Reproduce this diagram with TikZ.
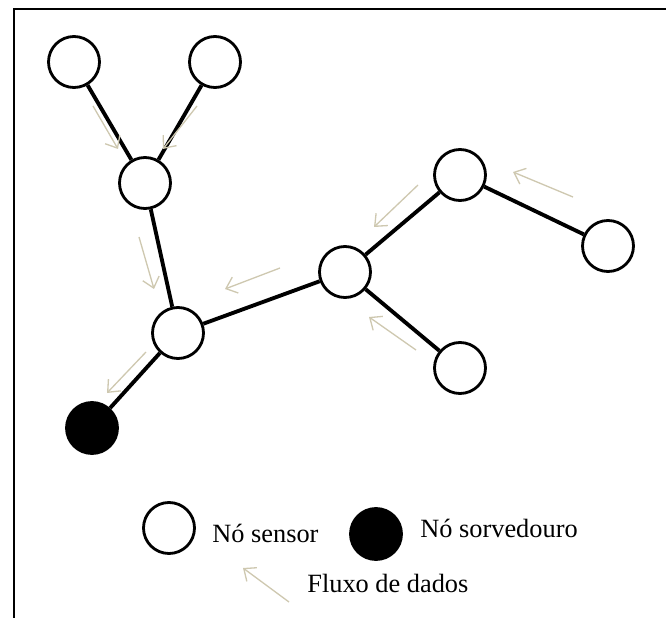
\documentclass[tikz,border=0pt]{standalone}
\usepackage{fontspec}
\setmainfont{Liberation Serif}
\usetikzlibrary{arrows.meta}
\definecolor{flowbeige}{RGB}{206,200,176}

\begin{document}
\begin{tikzpicture}[x=0.02cm, y=-0.02cm,
	sensor/.style={circle, draw, line width=1.6pt, fill=white, minimum size=1.02cm, inner sep=0pt},
	sink/.style={sensor, fill=black},
	link/.style={line width=2.2pt},
	flow/.style={flowbeige, line width=0.75pt, -{Straight Barb[length=2mm,width=3.4mm]}},
	legend/.style={anchor=base west, inner sep=0pt, font=\fontsize{15}{18}\selectfont}]
	\useasboundingbox (0,0) rectangle (666,618);
	
	% Frame
	\draw[line width=1.6pt] (14,618) -- (14,9) -- (666,9);
	
	% Sensor nodes
	\node[sensor] (s1) at (74,62) {};
	\node[sensor] (s2) at (215,62) {};
	\node[sensor] (s3) at (145,183) {};
	\node[sensor] (s4) at (178,333) {};
	\node[sensor] (s5) at (345,272) {};
	\node[sensor] (s6) at (460,175) {};
	\node[sensor] (s7) at (608,246) {};
	\node[sensor] (s8) at (460,368) {};
	\node[sink] (sink) at (92,428) {};
	
	% Links
	\draw[link] (s1) -- (s3);
	\draw[link] (s2) -- (s3);
	\draw[link] (s3) -- (s4);
	\draw[link] (s4) -- (sink);
	\draw[link] (s4) -- (s5);
	\draw[link] (s5) -- (s6);
	\draw[link] (s6) -- (s7);
	\draw[link] (s5) -- (s8);
	
	% Data flow towards the sink
	\draw[flow] (93,106) -- (118,149);
	\draw[flow] (197,106) -- (163,149);
	\draw[flow] (139,237) -- (154,289);
	\draw[flow] (280,268) -- (225,289);
	\draw[flow] (418,185) -- (374,227);
	\draw[flow] (573,197) -- (513,172);
	\draw[flow] (416,350) -- (369,317);
	\draw[flow] (146,352) -- (107,393);
	
	% Legend
	\node[sensor] (lsensor) at (169,528) {};
	\node[legend] (tsensor) at (212,542) {Nó sensor};
	\node[sink] (lsink) at (376,534) {};
	\node[legend] (tsink) at (420,537) {Nó sorvedouro};
	\coordinate (lflow) at (289,602);
	\draw[flow] (lflow) -- (243,568);
	\node[legend] (tflow) at (307,592) {Fluxo de dados};
\end{tikzpicture}
\end{document}
